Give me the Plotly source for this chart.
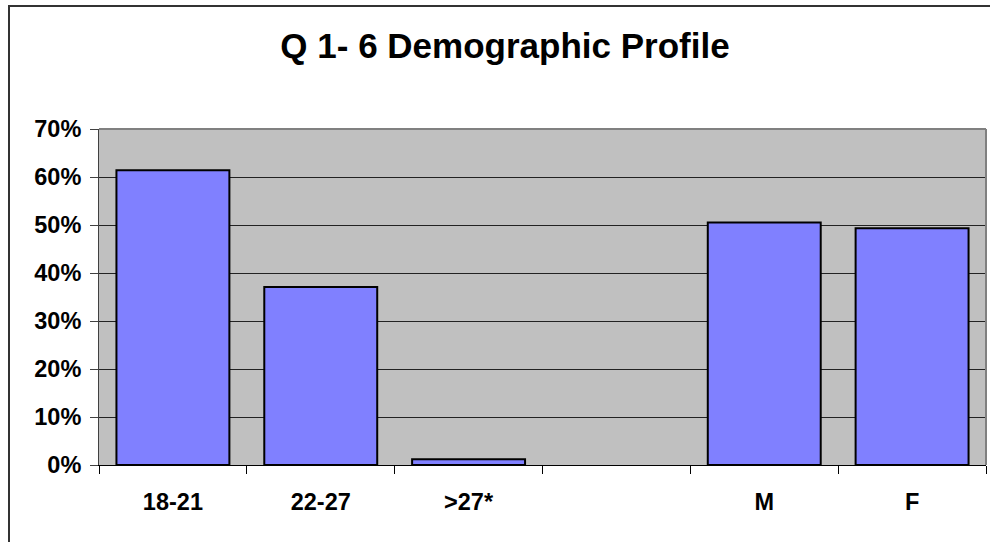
import plotly.graph_objects as go

categories = ["18-21", "22-27", ">27*", " ", "M", "F"]
values = [0.614, 0.371, 0.012, None, 0.505, 0.493]
y_ticks = [0, 0.1, 0.2, 0.3, 0.4, 0.5, 0.6, 0.7]

FONT = "Liberation Sans, Arial, sans-serif"

W, H = 990, 542
L, R, T, B = 99, 986, 129, 465

fig = go.Figure()
fig.add_trace(go.Bar(
    x=categories, y=values,
    marker=dict(color="#8080FF", line=dict(color="#000000", width=2)),
    hoverinfo="skip",
))

pw, ph = R - L, B - T
def px(x):
    return (x - L) / pw
def py(y):
    return (B - y) / ph

fig.update_layout(
    width=W, height=H,
    margin=dict(l=L, r=W - R, t=T, b=H - B, pad=0),
    paper_bgcolor="white",
    plot_bgcolor="#C0C0C0",
    showlegend=False,
    bargap=0.236,
    font=dict(family=FONT, color="black"),
    title=dict(
        text="<b>Q 1- 6 Demographic Profile</b>",
        font=dict(family=FONT, size=35, color="black"),
        x=505 / W, xref="container", xanchor="center",
        y=1 - 46 / H, yref="container", yanchor="middle",
    ),
    xaxis=dict(
        type="category",
        tickson="boundaries",
        ticks="outside", ticklen=8, tickcolor="#000000", tickwidth=1,
        showline=True, linecolor="#000000", linewidth=1,
        showgrid=False,
        tickfont=dict(family=FONT, size=23.5, color="black", weight="bold"),
        ticklabelstandoff=16,
        fixedrange=True,
    ),
    yaxis=dict(
        range=[0, 0.7],
        tickvals=y_ticks,
        tickformat=".0%",
        ticks="outside", ticklen=8, tickcolor="#404040", tickwidth=1,
        showline=True, linecolor="#404040", linewidth=1,
        showgrid=True, gridcolor="#222222", gridwidth=1,
        zeroline=False,
        tickfont=dict(family=FONT, size=23.5, color="black", weight="bold"),
        ticklabelstandoff=4,
        fixedrange=True,
    ),
    shapes=[
        # plot area top and right borders
        dict(type="line", xref="paper", yref="paper", x0=0, x1=1, y0=1, y1=1,
             line=dict(color="#808080", width=2)),
        dict(type="line", xref="paper", yref="paper", x0=1, x1=1, y0=0, y1=1,
             line=dict(color="#808080", width=2)),
        # outer chart border (cut off on the right and bottom)
        dict(type="rect", xref="paper", yref="paper",
             x0=px(9), x1=px(1000), y0=py(6), y1=py(560),
             line=dict(color="#333333", width=2), fillcolor="rgba(0,0,0,0)"),
    ],
)

fig.write_html(
    "out.html",
    config={"displayModeBar": False},
    post_script="document.body.style.margin='0';document.body.style.overflow='hidden';",
)
